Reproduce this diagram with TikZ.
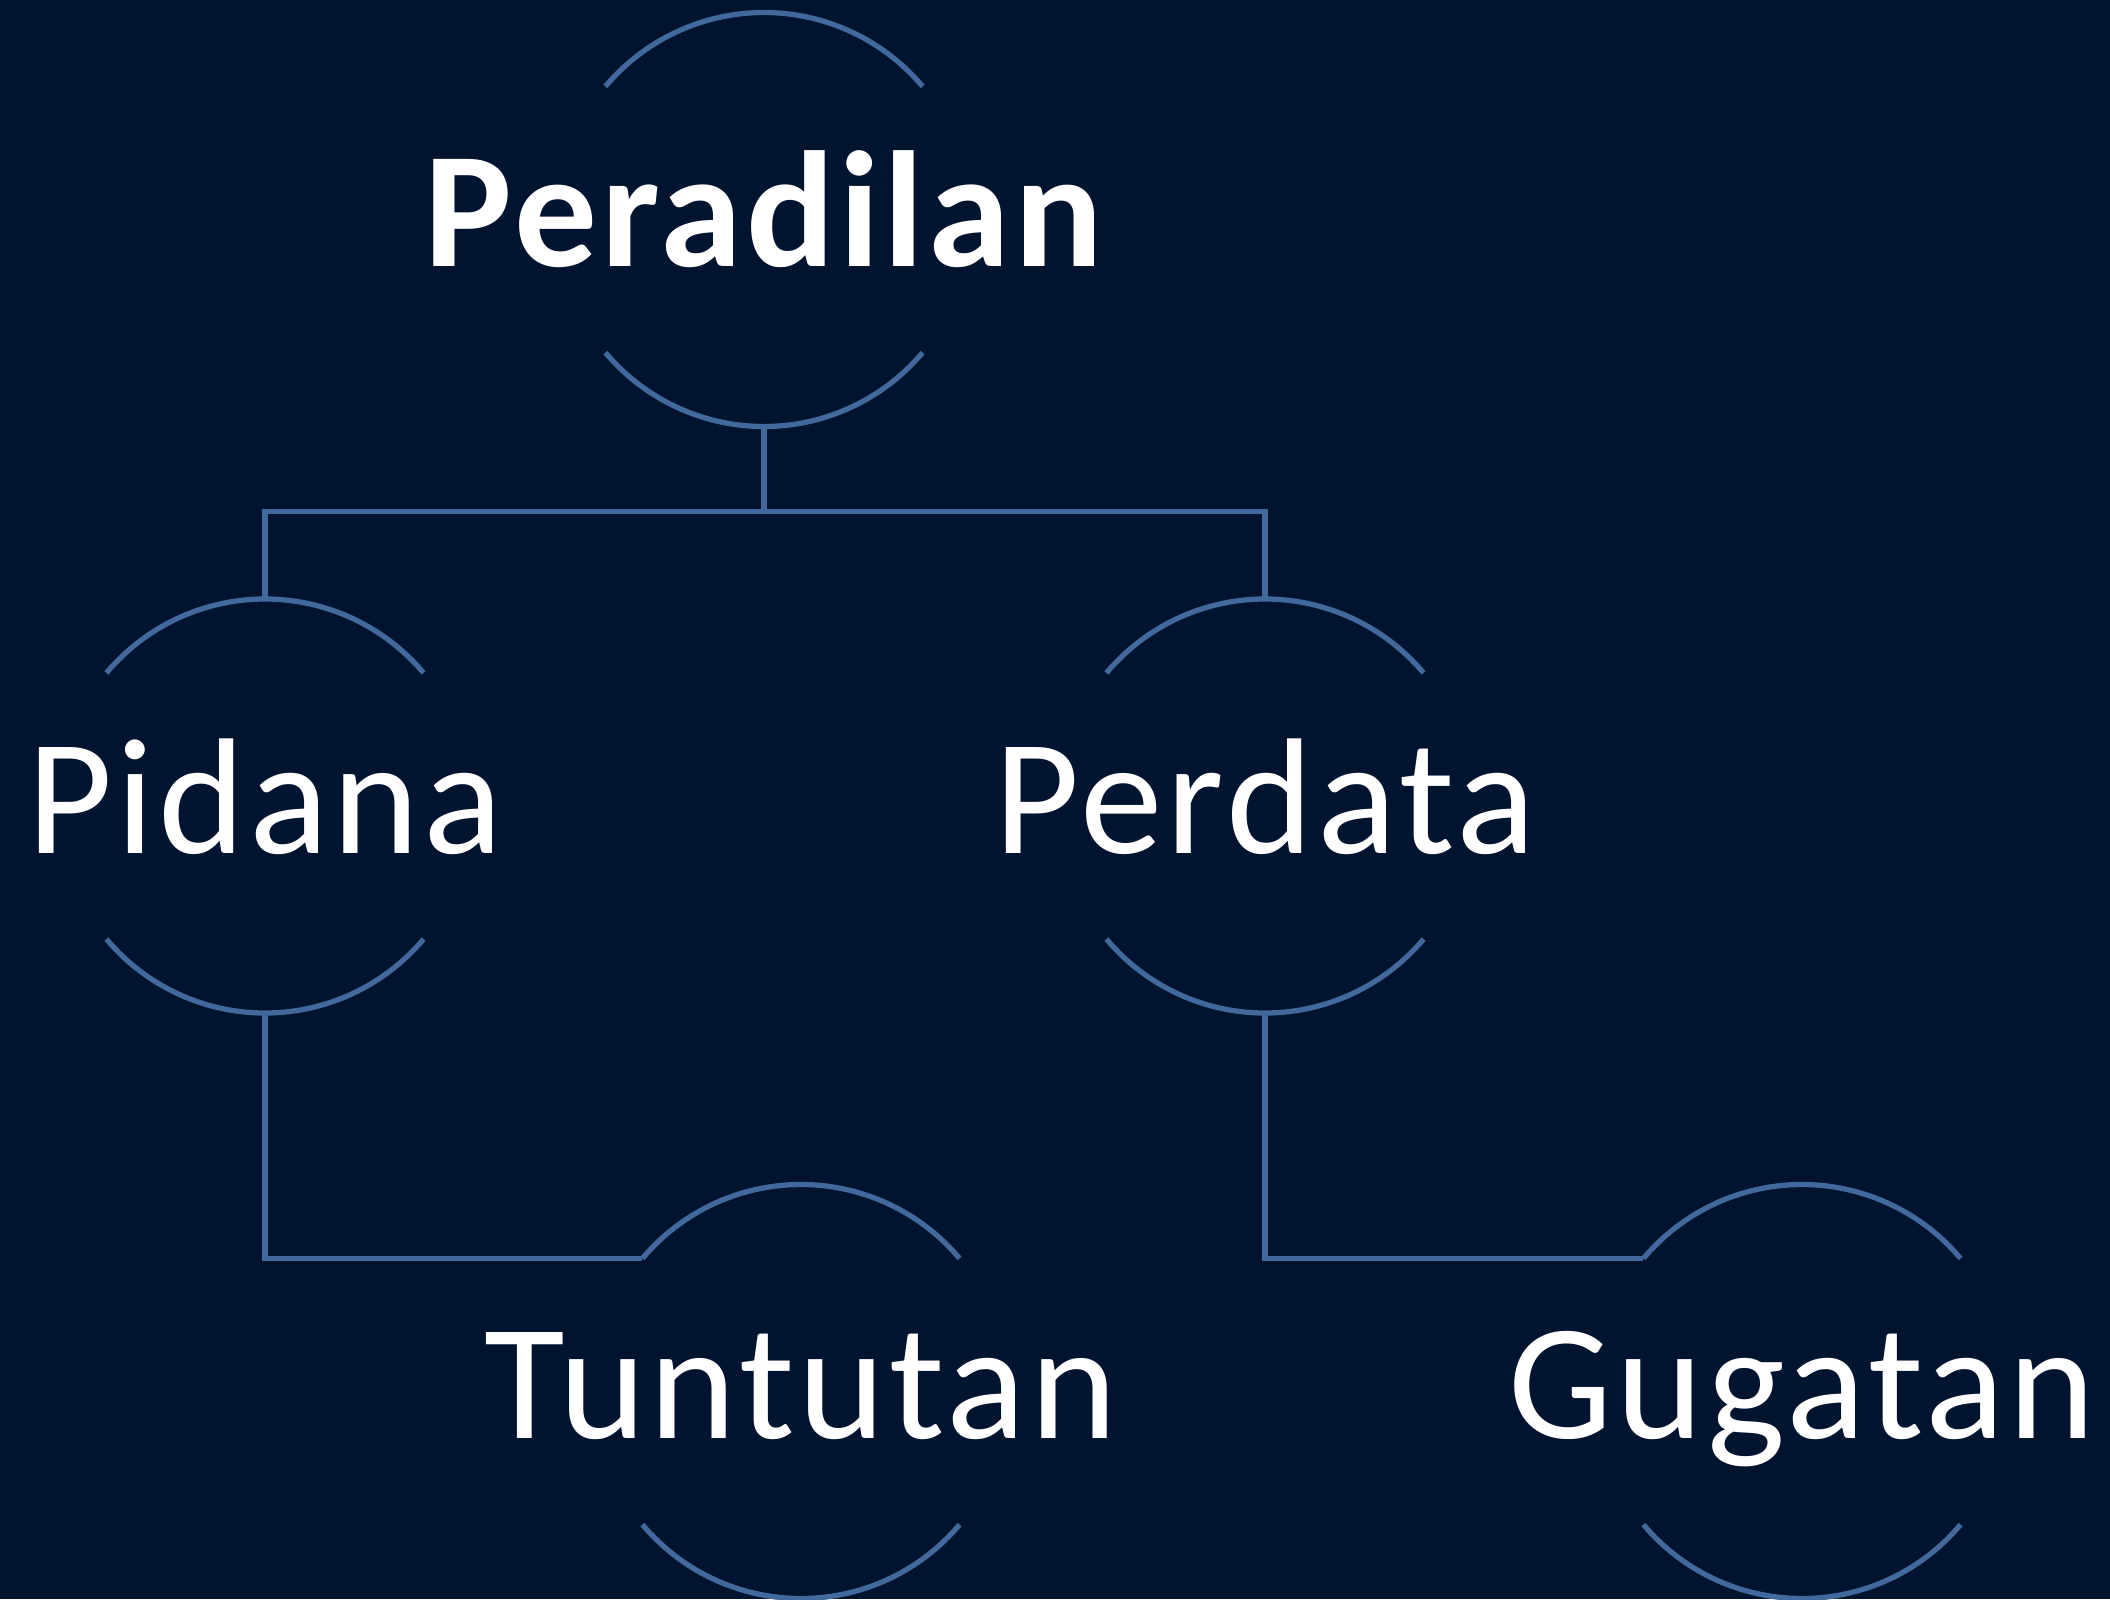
\documentclass[tikz,border=0pt]{standalone}
\usepackage{fontspec}
\setmainfont{Carlito}[LetterSpace=2.5]
\definecolor{bgnavy}{HTML}{00132F}
\definecolor{arcblue}{HTML}{41699C}
\tikzset{
  ring/.style={circle,minimum size=4.14cm,inner sep=0pt,outer sep=0pt},
  word/.style={anchor=base,text=white,inner sep=0pt,font=\fontsize{47}{56}\selectfont},
  arcline/.style={draw=arcblue,line width=1.5pt},
}
\begin{document}
\begin{tikzpicture}
    % background
    \fill[bgnavy] (0,0) rectangle (21.10,-15.99);
    \useasboundingbox (0,0) rectangle (21.10,-15.99);

    % elements
    \node[ring] (per) at (7.64,-2.195) {};
    \node[ring] (pid) at (2.65,-8.06) {};
    \node[ring] (perd) at (12.65,-8.06) {};
    \node[ring] (tun) at (8.01,-13.915) {};
    \node[ring] (gug) at (18.02,-13.915) {};

    % labels
    \node[word] (per-t) at ([yshift=-0.47cm]per.center) {\bfseries Peradilan};
    \node[word] (pid-t) at ([yshift=-0.47cm]pid.center) {Pidana};
    \node[word] (perd-t) at ([yshift=-0.47cm]perd.center) {Perdata};
    \node[word] (tun-t) at ([yshift=-0.47cm]tun.center) {Tuntutan};
    \node[word] (gug-t) at ([yshift=-0.47cm]gug.center) {Gugatan};

    % arcs above and below each element
    \foreach \n in {per,pid,perd,tun,gug} {
        \draw[arcline] (\n.40) arc (40:140:2.07);
        \draw[arcline] (\n.-40) arc (-40:-140:2.07);
    }

    % connectors
    \draw[arcline] (per.south) -- ++(0,-0.85) coordinate (split) -| (pid.north);
    \draw[arcline] (split) -| (perd.north);
    \draw[arcline] (pid.south) |- (tun.140);
    \draw[arcline] (perd.south) |- (gug.140);
\end{tikzpicture}
\end{document}
